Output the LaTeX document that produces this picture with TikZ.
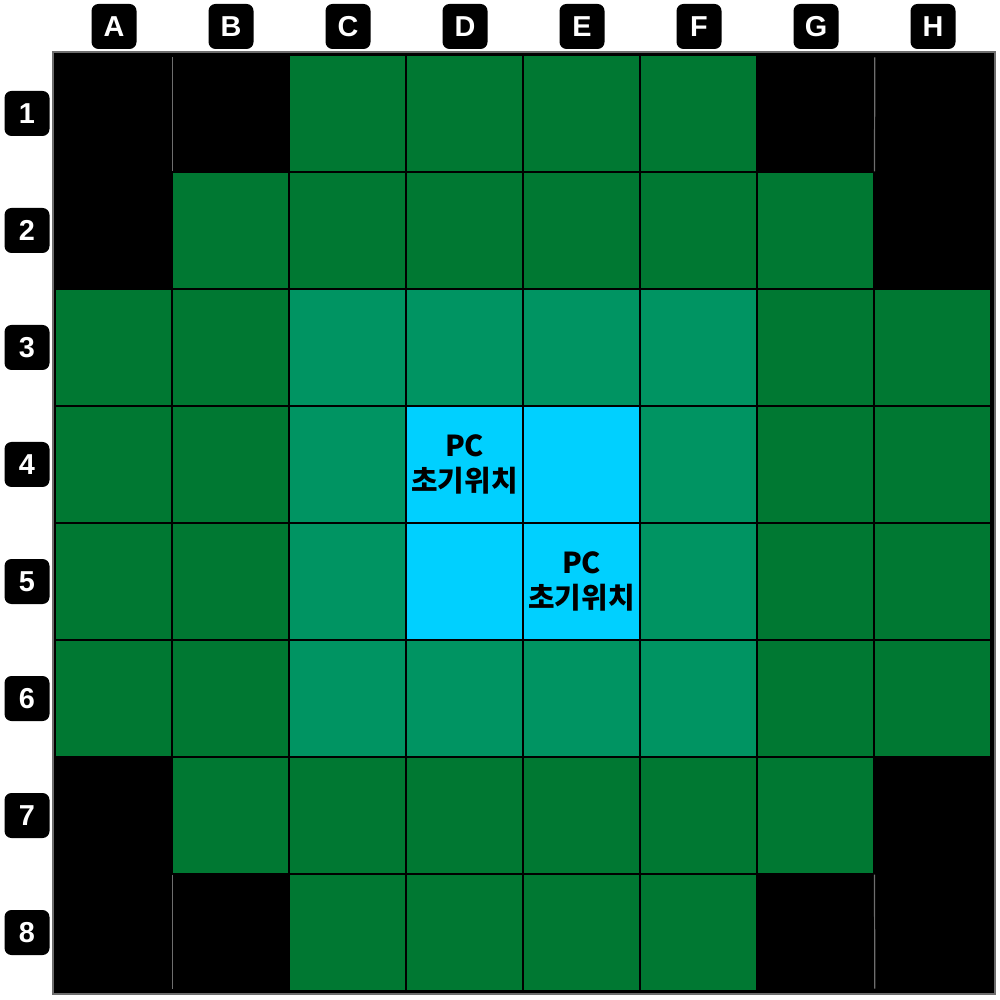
\documentclass[tikz,border=0pt]{standalone}
\usepackage{fontspec}
\setmainfont{Liberation Sans}
\newfontfamily\krfont{Noto Sans CJK KR}
\usetikzlibrary{positioning}
\definecolor{darkgreen}{RGB}{0,120,50}
\definecolor{midgreen}{RGB}{0,148,98}
\definecolor{startcyan}{RGB}{0,208,255}
\definecolor{gridgray}{RGB}{110,110,110}

\begin{document}
\begin{tikzpicture}[
    cell/.style={rectangle, draw=black, line width=0.3pt, minimum size=1.17cm, inner sep=0pt},
    hole/.style={rectangle, fill=black, minimum size=1.17cm, inner sep=0pt},
    tag/.style={rectangle, rounded corners=0.07cm, fill=black, text=white, minimum size=0.45cm, inner sep=0pt, font=\bfseries\fontsize{8.2pt}{9pt}\selectfont},
    pcnote/.style={align=center, text=black, font=\krfont\bfseries\fontsize{8.2pt}{10pt}\selectfont},
  ]
  \useasboundingbox (0,0) rectangle (10,-10);

  % board
  \draw[fill=black, draw=gridgray, line width=0.4pt] (0.53,-0.52) rectangle (9.95,-9.94);

  % cells, k = outside the area
  \foreach \row/\cols in {1/{k,k,d,d,d,d,k,k}, 2/{k,d,d,d,d,d,d,k}, 3/{d,d,m,m,m,m,d,d}, 4/{d,d,m,c,c,m,d,d},
                          5/{d,d,m,c,c,m,d,d}, 6/{d,d,m,m,m,m,d,d}, 7/{k,d,d,d,d,d,d,k}, 8/{k,k,d,d,d,d,k,k}} {
    \foreach \c [count=\col] in \cols {
      \if\c k
        \node[hole] (c-\col-\row) at ({1.135+1.17*(\col-1)}, {-1.135-1.17*(\row-1)}) {};
      \else
        \if\c d \def\cellcol{darkgreen}\fi
        \if\c m \def\cellcol{midgreen}\fi
        \if\c c \def\cellcol{startcyan}\fi
        \node[cell, fill=\cellcol] (c-\col-\row) at ({1.135+1.17*(\col-1)}, {-1.135-1.17*(\row-1)}) {};
      \fi
    }
  }
  \draw[gridgray, line width=0.35pt] ([yshift=-0.03cm]c-1-1.north east) -- (c-1-2.north east);
  \draw[gridgray, line width=0.35pt] ([yshift=-0.03cm]c-7-1.north east) -- (c-7-2.north east);
  \draw[gridgray, line width=0.35pt] (c-1-7.south east) -- ([yshift=0.03cm]c-1-8.south east);
  \draw[gridgray, line width=0.35pt] (c-7-7.south east) -- ([yshift=0.03cm]c-7-8.south east);

  % labels
  \foreach \name [count=\col] in {A,B,C,D,E,F,G,H}
    \node[tag] (col-\name) at ({1.14+1.17*(\col-1)}, -0.265) {\name};
  \foreach \row in {1,...,8}
    \node[tag] (row-\row) at (0.27, {-1.135-1.17*(\row-1)}) {\row};

  \node[pcnote] (pc-d4) at (c-4-4) {PC\\초기위치};
  \node[pcnote] (pc-e5) at (c-5-5) {PC\\초기위치};
\end{tikzpicture}
\end{document}
